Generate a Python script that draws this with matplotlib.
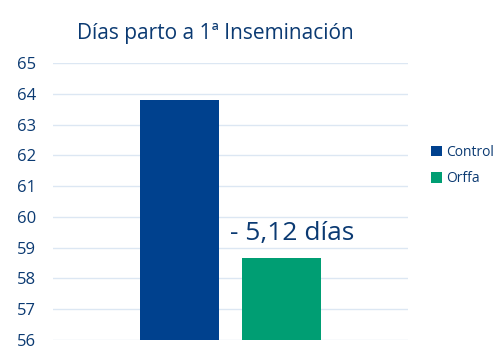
import numpy as np
import matplotlib.pyplot as plt

plt.rcParams['font.family'] = ['Open Sans', 'DejaVu Sans']

series = ['Control', 'Orffa']
values = [63.79, 58.67]
colors = ['#00418E', '#009E73']
yticks = [56, 57, 58, 59, 60, 61, 62, 63, 64, 65]
txt_color = '#0B3A72'

fig = plt.figure(figsize=(5, 3.52), dpi=100)
ax = fig.add_axes([0.106, 0.034, 0.71, 0.787])

x = np.arange(len(series))
for i in range(len(series)):
    ax.bar(x[i], values[i], width=0.78, color=colors[i], label=series[i], zorder=3)

ax.set_ylim(56, 65)
ax.set_xlim(-1.24, 2.24)
ax.set_yticks(yticks)
ax.set_xticks([])
ax.grid(axis='y', color='#DCE7F3', linewidth=1, zorder=0)
for s in ax.spines.values():
    s.set_visible(False)
ax.tick_params(axis='y', length=0, labelsize=12, labelcolor=txt_color, pad=12)

fig.text(0.43, 0.905, 'Días parto a 1ª Inseminación', ha='center', va='center',
         fontsize=15, color=txt_color)
ax.text(1.1, 59.45, '- 5,12 días', ha='center', va='center', fontsize=19, color=txt_color)

leg = ax.legend(loc='center left', bbox_to_anchor=(1.03, 0.63), frameon=False,
                fontsize=10, handlelength=0.8, handleheight=0.8, handletextpad=0.3,
                labelspacing=0.8)
for t in leg.get_texts():
    t.set_color(txt_color)

fig.savefig('out.png', dpi=100)
